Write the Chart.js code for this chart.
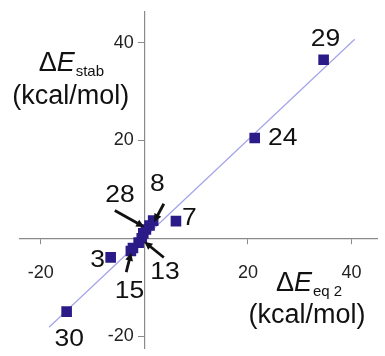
<!DOCTYPE html>
<html>
<head>
<meta charset="utf-8">
<script src="https://cdn.jsdelivr.net/npm/chart.js@4.4.1/dist/chart.umd.min.js"></script>
<style>
  html, body { margin: 0; padding: 0; background: #fff; }
  canvas { display: block; }
</style>
</head>
<body>
<canvas id="chart" width="385" height="356"></canvas>
<script>
// scatter points (dE eq2 vs dE stab)
var pointX = [34.6, 21.3, 6.1, 1.7, 1.0, 0.3, -0.2, -0.5, -1.1, -2.2, -2.6, -6.5, -15.0];
var pointY = [36.5, 20.5, 3.5, 3.6, 2.6, 1.8, 1.0, 0.0, -0.9, -2.0, -2.6, -3.9, -15.0];
// fitted line end points
var fitX = [-18.4, 40.6];
var fitY = [-18.2, 40.7];
var xTicks = [-20, 20, 40];
var yTicks = [-20, 20, 40];
// compound numbers, placed in data units
var labelText = ['29', '24', '7', '8', '28', '13', '15', '3', '30'];
var labelX = [34.95, 26.7, 8.7, 2.5, -4.7, 4.0, -2.85, -9.0, -14.5];
var labelY = [40.66, 20.3, 4.06, 11.06, 8.66, -6.94, -10.94, -4.68, -20.7];
// arrows from label to point
var arrowFromX = [-5.7, 3.76, 3.76, -3.5];
var arrowFromY = [5.66, 7.06, -3.94, -6.94];
var arrowToX = [0.0, 1.87, 0.0, -2.55];
var arrowToY = [2.3, 3.3, -0.7, -2.94];

var FONT = '"Liberation Sans", Arial, sans-serif';

var annotate = {
  id: 'annotate',
  afterDatasetsDraw: function (chart) {
    var ctx = chart.ctx;
    var xs = chart.scales.x, ys = chart.scales.y;
    ctx.save();
    ctx.fillStyle = '#111';
    ctx.strokeStyle = '#111';

    // numbers
    ctx.font = '23px ' + FONT;
    ctx.textAlign = 'center';
    ctx.textBaseline = 'middle';
    for (var i = 0; i < labelText.length; i++) {
      ctx.save();
      ctx.translate(xs.getPixelForValue(labelX[i]), ys.getPixelForValue(labelY[i]));
      ctx.scale(1.15, 1);
      ctx.fillText(labelText[i], 0, 0);
      ctx.restore();
    }

    // arrows
    ctx.lineWidth = 2.8;
    for (var j = 0; j < arrowFromX.length; j++) {
      var x1 = xs.getPixelForValue(arrowFromX[j]), y1 = ys.getPixelForValue(arrowFromY[j]);
      var x2 = xs.getPixelForValue(arrowToX[j]), y2 = ys.getPixelForValue(arrowToY[j]);
      var a = Math.atan2(y2 - y1, x2 - x1);
      var head = 9;
      ctx.beginPath();
      ctx.moveTo(x1, y1);
      ctx.lineTo(x2 - head * 0.8 * Math.cos(a), y2 - head * 0.8 * Math.sin(a));
      ctx.stroke();
      ctx.beginPath();
      ctx.moveTo(x2, y2);
      ctx.lineTo(x2 - head * Math.cos(a - 0.45), y2 - head * Math.sin(a - 0.45));
      ctx.lineTo(x2 - head * Math.cos(a + 0.45), y2 - head * Math.sin(a + 0.45));
      ctx.closePath();
      ctx.fill();
    }

    // axis titles
    function deltaE(xv, yv, sub) {
      var x = xs.getPixelForValue(xv), y = ys.getPixelForValue(yv);
      ctx.textAlign = 'left';
      ctx.textBaseline = 'alphabetic';
      ctx.font = '27px ' + FONT;
      ctx.fillText('\u0394', x, y);
      x += ctx.measureText('\u0394').width;
      ctx.font = 'italic 27px ' + FONT;
      ctx.fillText('E', x, y);
      x += ctx.measureText('E').width + 1;
      ctx.font = '15px ' + FONT;
      ctx.fillText(sub, x, y + 5);
    }
    function units(xv, yv) {
      ctx.textAlign = 'center';
      ctx.textBaseline = 'alphabetic';
      ctx.font = '27px ' + FONT;
      ctx.fillText('(kcal/mol)', xs.getPixelForValue(xv), ys.getPixelForValue(yv));
    }
    deltaE(-20.4, 34.26, 'stab');
    units(-14.2, 27.46);
    deltaE(25.4, -10.74, 'eq 2');
    units(31.4, -17.34);

    ctx.restore();
  }
};

var pts = pointX.map(function (v, i) { return { x: v, y: pointY[i] }; });
var fit = fitX.map(function (v, i) { return { x: v, y: fitY[i] }; });

function noSize(s) {
  if (s.isHorizontal()) { s.height = 0; } else { s.width = 0; }
  s.paddingTop = 0; s.paddingBottom = 0; s.paddingLeft = 0; s.paddingRight = 0;
}

new Chart(document.getElementById('chart'), {
  type: 'scatter',
  data: {
    datasets: [{
      data: pts,
      order: 0,
      pointStyle: 'rect',
      pointRadius: 7.5,
      pointHoverRadius: 7.5,
      backgroundColor: '#2b1b88',
      borderColor: '#2b1b88',
      borderWidth: 0
    }, {
      data: fit,
      order: 1,
      showLine: true,
      pointRadius: 0,
      borderColor: '#a3a3ea',
      borderWidth: 1.2
    }]
  },
  options: {
    responsive: false,
    animation: false,
    events: [],
    layout: { padding: { left: 20, top: 12, right: 0, bottom: 0 } },
    plugins: { legend: { display: false }, tooltip: { enabled: false } },
    scales: {
      x: {
        type: 'linear',
        position: { y: 0 },
        min: -24, max: 45,
        afterBuildTicks: function (s) { s.ticks = xTicks.map(function (v) { return { value: v }; }); },
        afterFit: noSize,
        border: { display: true, color: '#8a8a8a', width: 1.2 },
        grid: { display: true, drawOnChartArea: false, drawTicks: true, tickLength: 5, color: '#8a8a8a' },
        ticks: { color: '#222', padding: 19, font: { family: FONT, size: 18 } }
      },
      y: {
        type: 'linear',
        position: { x: 0 },
        min: -22.54, max: 46.26,
        afterBuildTicks: function (s) { s.ticks = yTicks.map(function (v) { return { value: v }; }); },
        afterFit: noSize,
        border: { display: true, color: '#8a8a8a', width: 1.2 },
        grid: { display: true, drawOnChartArea: false, drawTicks: true, tickLength: 6, color: '#8a8a8a' },
        ticks: {
          color: '#222', padding: 4, font: { family: FONT, size: 18 },
          callback: function (v) { return v + '\u2002\u200a'; }
        }
      }
    }
  },
  plugins: [annotate]
});
</script>
</body>
</html>
